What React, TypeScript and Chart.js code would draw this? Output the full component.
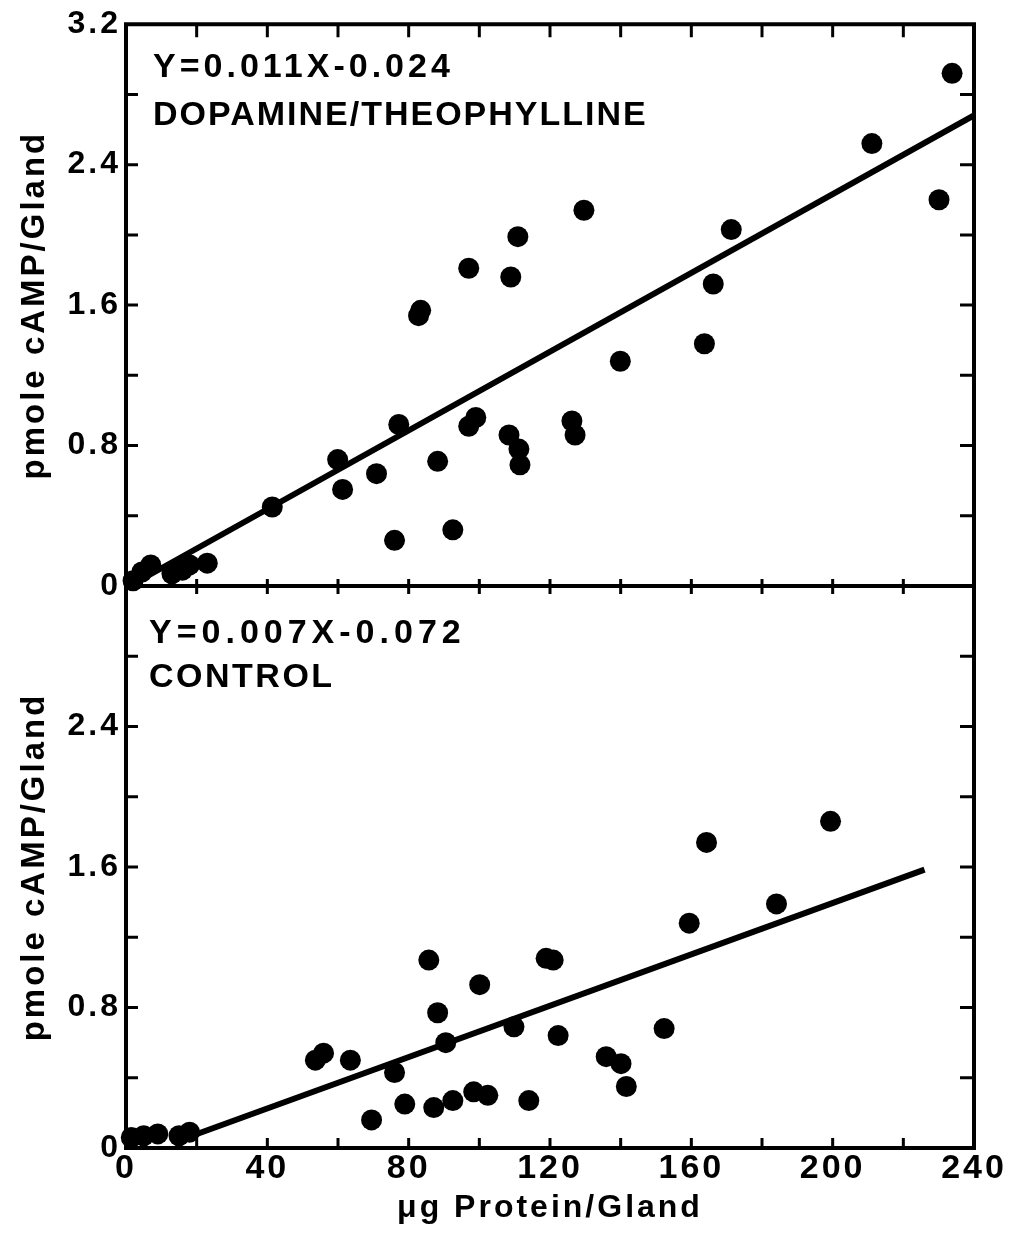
import React, { useEffect, useRef } from 'react';
import { Chart, registerables } from 'chart.js';

Chart.register(...registerables);

// ---------- data ----------
const topProtein = [
  233.8, 211.1, 230.1, 171.3, 129.6, 110.9, 108.9, 97.0, 166.2, 83.4, 82.8,
  139.9, 163.7, 126.2, 127.1, 99.0, 97.0, 108.4, 111.2, 111.5, 77.2, 59.9,
  61.3, 70.9, 88.2, 41.4, 76.0, 92.5, 2, 4.5, 7, 13, 16, 18, 23,
];
const topCamp = [
  2.92, 2.52, 2.2, 2.03, 2.14, 1.99, 1.76, 1.81, 1.72, 1.57, 1.54,
  1.28, 1.38, 0.94, 0.86, 0.96, 0.91, 0.86, 0.78, 0.69, 0.92, 0.72,
  0.55, 0.64, 0.71, 0.45, 0.26, 0.32, 0.03, 0.08, 0.12, 0.07, 0.09, 0.12, 0.13,
];
const topFitProtein = [1, 240];
const topFitCamp = [0.0, 2.68];

const bottomProtein = [
  85.7, 100.1, 88.2, 90.5, 109.8, 53.6, 55.9, 63.5, 76.0, 69.5, 78.9, 87.1,
  92.5, 98.4, 102.4, 118.9, 120.9, 122.3, 152.3, 135.9, 140.1, 141.6, 114.0,
  159.4, 184.1, 164.3, 199.4, 1.5, 5, 9, 15, 18,
];
const bottomCamp = [
  1.07, 0.93, 0.77, 0.6, 0.69, 0.5, 0.54, 0.5, 0.43, 0.16, 0.25, 0.23,
  0.27, 0.32, 0.3, 1.08, 1.07, 0.64, 0.68, 0.52, 0.48, 0.35, 0.27,
  1.28, 1.39, 1.74, 1.86, 0.06, 0.07, 0.08, 0.07, 0.09,
];
const bottomFitProtein = [16, 226];
const bottomFitCamp = [0.05, 1.585];

const yTickValuesTop = [0, 0.8, 1.6, 2.4, 3.2];
const yTickValuesBottom = [0, 0.8, 1.6, 2.4];
const xTickValues = [0, 40, 80, 120, 160, 200, 240];

const topEquation = 'Y=0.011X-0.024';
const topGroup = 'DOPAMINE/THEOPHYLLINE';
const bottomEquation = 'Y=0.007X-0.072';
const bottomGroup = 'CONTROL';
const yTitle = 'pmole cAMP/Gland';
const xTitle = '\u03BCg Protein/Gland';

const X_MINOR_STEP = 20;
const Y_MINOR_STEP = 0.4;

const FONT = '"Liberation Sans", Arial, Helvetica, sans-serif';

// ---------- plugins ----------
const spacingPlugin = {
  id: 'spacing',
  beforeDraw(chart: any) {
    chart.ctx.letterSpacing = '3px';
  },
};

const framePlugin = {
  id: 'frame',
  afterDatasetsDraw(chart: any, _args: any, opts: any) {
    const { ctx, chartArea: a, scales } = chart;
    const xs = scales.x;
    const ys = scales.y;
    ctx.save();
    ctx.strokeStyle = '#000';
    ctx.lineCap = 'square';
    ctx.lineWidth = 4;
    ctx.beginPath();
    ctx.moveTo(a.left, a.top);
    ctx.lineTo(a.left, a.bottom);
    ctx.lineTo(a.right, a.bottom);
    ctx.lineTo(a.right, a.top);
    if (opts.drawTop) ctx.lineTo(a.left, a.top);
    ctx.stroke();

    ctx.lineWidth = 3;
    ctx.lineCap = 'butt';
    ctx.beginPath();
    for (let v = X_MINOR_STEP; v < xs.max - 1e-6; v += X_MINOR_STEP) {
      const px = xs.getPixelForValue(v);
      if (opts.topDown > 0) {
        ctx.moveTo(px, a.top);
        ctx.lineTo(px, a.top + opts.topDown);
      }
      ctx.moveTo(px, a.bottom - opts.bottomUp);
      ctx.lineTo(px, a.bottom + opts.bottomDown);
    }
    for (let v = Y_MINOR_STEP; v < ys.max - 1e-6; v += Y_MINOR_STEP) {
      const py = ys.getPixelForValue(v);
      ctx.moveTo(a.left, py);
      ctx.lineTo(a.left + 12, py);
      ctx.moveTo(a.right - 14, py);
      ctx.lineTo(a.right, py);
    }
    ctx.stroke();

    ctx.fillStyle = '#000';
    ctx.textAlign = 'left';
    ctx.textBaseline = 'alphabetic';
    ctx.font = `bold 34px ${FONT}`;
    ctx.letterSpacing = opts.eqSpacing;
    ctx.fillText(opts.lines[0], a.left + opts.textLeft, a.top + opts.line1);
    ctx.letterSpacing = opts.groupSpacing;
    ctx.fillText(opts.lines[1], a.left + opts.textLeft, a.top + opts.line2);
    ctx.restore();
  },
};

function fmt(v: number) {
  return v === 0 ? '0' : v.toFixed(1);
}

function buildConfig(isTop: boolean): any {
  const xsArr = isTop ? topProtein : bottomProtein;
  const ysArr = isTop ? topCamp : bottomCamp;
  const fx = isTop ? topFitProtein : bottomFitProtein;
  const fy = isTop ? topFitCamp : bottomFitCamp;
  const yTicks = isTop ? yTickValuesTop : yTickValuesBottom;
  return {
    type: 'scatter',
    data: {
      datasets: [
        {
          type: 'scatter',
          data: xsArr.map((x, i) => ({ x, y: ysArr[i] })),
          pointRadius: 10.5,
          pointHoverRadius: 10.5,
          backgroundColor: '#000',
          borderColor: '#000',
          borderWidth: 0,
          clip: false,
        },
        {
          type: 'line',
          data: fx.map((x, i) => ({ x, y: fy[i] })),
          borderColor: '#000',
          borderWidth: 6,
          pointRadius: 0,
          showLine: true,
          fill: false,
          tension: 0,
          clip: false,
        },
      ],
    },
    options: {
      responsive: false,
      animation: false,
      events: [],
      layout: {
        padding: isTop
          ? { top: 22, right: 53, bottom: 54, left: 0 }
          : { top: 26, right: 53, bottom: 0, left: 0 },
      },
      plugins: {
        legend: { display: false },
        tooltip: { enabled: false },
        frame: isTop
          ? {
              drawTop: true,
              topDown: 13,
              bottomUp: 7,
              bottomDown: 8,
              lines: [topEquation, topGroup],
              textLeft: 27,
              line1: 53,
              line2: 101,
              eqSpacing: '4px',
              groupSpacing: '2px',
            }
          : {
              drawTop: true,
              topDown: 0,
              bottomUp: 10,
              bottomDown: 0,
              lines: [bottomEquation, bottomGroup],
              textLeft: 23,
              line1: 57,
              line2: 101,
              eqSpacing: '5px',
              groupSpacing: '2.5px',
            },
      },
      scales: {
        x: {
          type: 'linear',
          min: 0,
          max: 240,
          display: !isTop,
          afterBuildTicks: (scale: any) => {
            scale.ticks = xTickValues.map((v) => ({ value: v }));
          },
          afterFit: (scale: any) => {
            scale.height = isTop ? 0 : 88;
          },
          grid: { display: false, drawTicks: false },
          border: { display: false },
          ticks: {
            autoSkip: false,
            maxRotation: 0,
            color: '#000',
            padding: 0,
            font: { family: FONT, size: 34, weight: 'bold' },
            callback: (v: any) => String(v),
          },
          title: {
            display: true,
            text: xTitle,
            color: '#000',
            font: { family: FONT, size: 32, weight: 'bold' },
            padding: { top: 0, bottom: 9 },
          },
        },
        y: {
          type: 'linear',
          min: 0,
          max: 3.2,
          afterBuildTicks: (scale: any) => {
            scale.ticks = yTicks.map((v) => ({ value: v }));
          },
          afterFit: (scale: any) => {
            scale.width = 126;
          },
          grid: { display: false, drawTicks: false },
          border: { display: false },
          ticks: {
            color: '#000',
            padding: 5,
            font: { family: FONT, size: 32, weight: 'bold' },
            callback: (v: any) => fmt(Number(v)),
          },
          title: {
            display: true,
            text: yTitle,
            color: '#000',
            font: { family: FONT, size: 33, weight: 'bold' },
            padding: { top: 15, bottom: 0 },
          },
        },
      },
    },
    plugins: [spacingPlugin, framePlugin],
  };
}

function Panel({ isTop, top, height }: { isTop: boolean; top: number; height: number }) {
  const ref = useRef<HTMLCanvasElement | null>(null);
  useEffect(() => {
    if (!ref.current) return;
    const chart = new Chart(ref.current, buildConfig(isTop));
    return () => chart.destroy();
  }, [isTop]);
  return (
    <canvas
      ref={ref}
      width={1027}
      height={height}
      style={{ position: 'absolute', left: 0, top, width: 1027, height }}
    />
  );
}

export default function App() {
  return (
    <div
      style={{
        position: 'absolute',
        left: 0,
        top: 0,
        width: 1027,
        height: 1236,
        background: '#fff',
        overflow: 'hidden',
      }}
    >
      <Panel isTop={true} top={0} height={640} />
      <Panel isTop={false} top={560} height={676} />
    </div>
  );
}
